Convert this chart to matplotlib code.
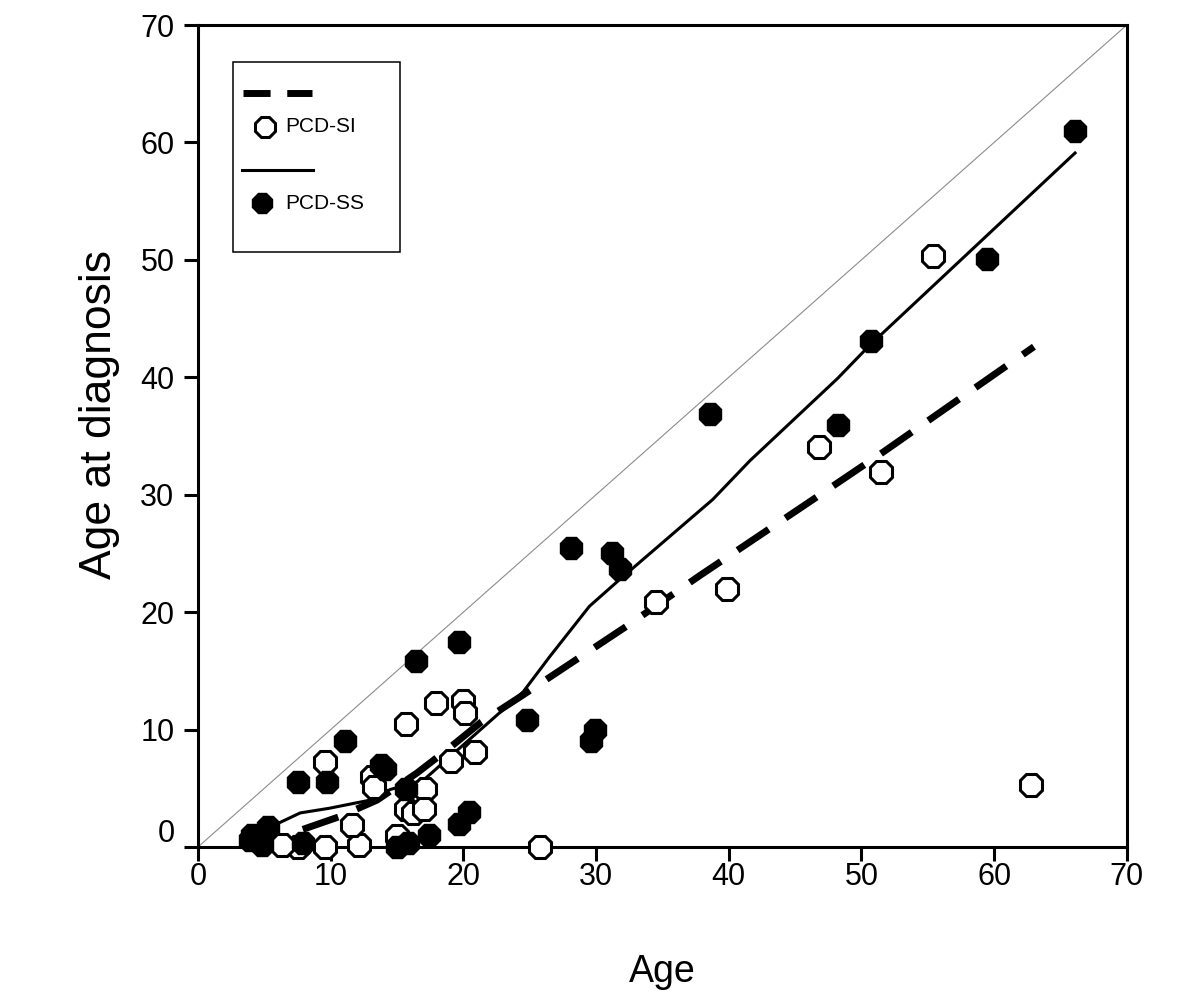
# -*- coding: utf-8 -*-
# scatter of age at diagnosis vs age, PCD-SI and PCD-SS groups with fitted curves
import matplotlib
matplotlib.use("Agg")
import matplotlib.pyplot as plt
import matplotlib.transforms as mtransforms
from matplotlib.lines import Line2D
from matplotlib.patches import Rectangle

plt.rcParams["font.family"] = ["Liberation Sans", "DejaVu Sans"]

# PCD-SI (open markers)
si_age = [62.8, 55.4, 46.8, 51.5, 39.9, 34.5, 25.8, 17.9, 20.0, 20.1, 15.7,
          20.9, 19.1, 9.6, 13.1, 13.3, 17.1, 15.7, 16.2, 17.0, 15.0, 12.1,
          11.6, 9.6, 7.5, 6.3]
si_diag = [5.3, 50.3, 34.1, 31.9, 22.0, 20.9, 0.0, 12.3, 12.4, 11.4, 10.5,
           8.1, 7.3, 7.2, 6.0, 5.1, 4.9, 3.2, 2.9, 3.2, 0.9, 0.2,
           1.9, 0.0, 0.0, 0.2]

# PCD-SS (filled markers)
ss_age = [66.1, 59.5, 50.7, 48.2, 38.6, 28.1, 31.2, 31.8, 24.8, 29.9, 29.6,
          19.7, 16.4, 11.1, 7.5, 9.7, 13.8, 14.1, 15.7, 19.7, 20.4, 17.4,
          15.0, 15.8, 4.1, 5.3, 4.8, 7.9, 3.9]
ss_diag = [61.0, 50.1, 43.1, 35.9, 36.9, 25.5, 25.0, 23.7, 10.8, 10.0, 9.0,
           17.5, 15.8, 9.0, 5.5, 5.5, 7.0, 6.6, 4.9, 2.0, 3.0, 1.0,
           0.0, 0.3, 1.0, 1.7, 0.2, 0.3, 0.6]

# fitted curves
si_fit_x = [7.9, 10.7, 13.5, 16.5, 18.8, 21.3, 24.3, 27.1, 32.3, 37.8, 46.1,
            51.6, 63.0]
si_fit_y = [1.5, 2.6, 4.0, 6.3, 8.3, 10.6, 12.8, 14.9, 18.8, 23.1, 29.4,
            33.6, 42.6]
ss_fit_x = [6.2, 7.7, 9.9, 13.0, 14.5, 17.0, 21.0, 24.5, 26.5, 29.5, 31.8,
            38.8, 41.6, 48.2, 50.6, 66.1]
ss_fit_y = [2.1, 2.9, 3.3, 4.0, 4.9, 5.7, 9.7, 13.2, 16.2, 20.5, 22.8,
            29.6, 32.9, 39.9, 42.7, 59.1]

ticks = [0, 10, 20, 30, 40, 50, 60, 70]

fig = plt.figure(figsize=(12, 10), dpi=100)
ax = fig.add_axes([0.165, 0.153, 0.774, 0.822])

# line of identity
ax.plot([0, 70], [0, 70], color="#8c8c8c", lw=0.8, zorder=1)

# fitted curves
dash_line, = ax.plot(si_fit_x, si_fit_y, color="black", lw=5, zorder=2)
dash_line.set_dashes((5.4, 2.9))
ax.plot(ss_fit_x, ss_fit_y, color="black", lw=2.2, zorder=2)

# data points
ax.plot(si_age, si_diag, ls="none", marker="8", ms=17, mfc="white",
        mec="black", mew=2.2, zorder=3, clip_on=False)
ax.plot(ss_age, ss_diag, ls="none", marker="8", ms=17, mfc="black",
        mec="black", mew=1, zorder=4, clip_on=False)

ax.set_xlim(0, 70)
ax.set_ylim(0, 70)
ax.set_xticks(ticks)
ax.set_yticks(ticks)
ax.tick_params(direction="out", length=10, width=2.2, labelsize=22,
               top=False, right=False)
ax.tick_params(axis="x", pad=1)
ax.tick_params(axis="y", pad=7)
for s in ax.spines.values():
    s.set_linewidth(2.2)

ax.set_xlabel("Age", fontsize=27)
ax.set_ylabel("Age at diagnosis", fontsize=32)
ax.xaxis.set_label_coords(0.5, -0.13)
ax.yaxis.set_label_coords(-0.084, 0.526)

# lift the "0" label on the y axis like the original
offset = mtransforms.ScaledTranslation(0, 16 / 100, fig.dpi_scale_trans)
lbl0 = ax.get_yticklabels()[0]
lbl0.set_transform(lbl0.get_transform() + offset)

# hand made legend box
ax.add_patch(Rectangle((0.038, 0.724), 0.179, 0.231, transform=ax.transAxes,
                       fill=False, lw=1.1, ec="black", zorder=5))
leg_dash = Line2D([0.048, 0.123], [0.917, 0.917], transform=ax.transAxes,
                  color="black", lw=5, zorder=6)
leg_dash.set_dashes((3.9, 2.4))
ax.add_line(leg_dash)
ax.add_line(Line2D([0.072], [0.876], transform=ax.transAxes, ls="none",
                   marker="8", ms=16, mfc="white", mec="black", mew=2.2,
                   zorder=6))
ax.text(0.094, 0.876, "PCD-SI", transform=ax.transAxes, fontsize=15,
        va="center", ha="left")
ax.add_line(Line2D([0.047, 0.124], [0.824, 0.824], transform=ax.transAxes,
                   color="black", lw=2.2, zorder=6))
ax.add_line(Line2D([0.069], [0.783], transform=ax.transAxes, ls="none",
                   marker="8", ms=16, mfc="black", mec="black", zorder=6))
ax.text(0.094, 0.783, "PCD-SS", transform=ax.transAxes, fontsize=15,
        va="center", ha="left")

fig.savefig("out.png", dpi=100)
